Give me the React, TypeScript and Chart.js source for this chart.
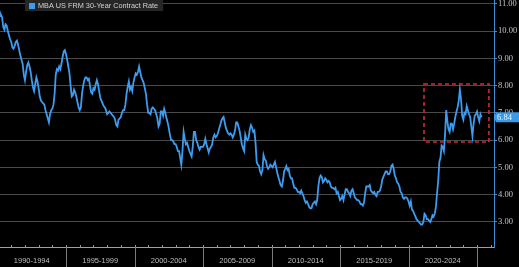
import React, { useEffect, useRef } from 'react';
import { Chart, registerables } from 'chart.js';

Chart.register(...registerables);

// ---------- DATA (monthly MBA 30-year contract rate, %) ----------
const startYear = 1990;
const rates1990 = [10.35, 10.45, 10.55, 10.6, 10.5, 10.15, 10.05, 10.25, 10.2, 10.0, 9.85, 9.7];
const rates1991 = [9.6, 9.4, 9.35, 9.45, 9.6, 9.65, 9.5, 9.3, 9.1, 8.95, 8.8, 8.4];
const rates1992 = [8.2, 8.5, 8.75, 8.85, 8.7, 8.5, 8.2, 7.95, 7.8, 8.05, 8.3, 8.15];
const rates1993 = [7.9, 7.6, 7.45, 7.4, 7.35, 7.3, 7.1, 6.95, 6.8, 6.65, 6.95, 7.1];
const rates1994 = [7.15, 7.3, 7.7, 8.4, 8.6, 8.55, 8.7, 8.6, 8.8, 9.05, 9.25, 9.3];
const rates1995 = [9.15, 8.95, 8.7, 8.45, 8.0, 7.6, 7.65, 7.85, 7.75, 7.6, 7.4, 7.2];
const rates1996 = [7.1, 7.2, 7.7, 8.0, 8.2, 8.3, 8.3, 8.2, 8.25, 8.0, 7.75, 7.7];
const rates1997 = [7.9, 7.85, 8.05, 8.2, 8.05, 7.8, 7.55, 7.45, 7.35, 7.25, 7.2, 7.1];
const rates1998 = [6.95, 7.0, 7.05, 7.0, 6.95, 6.9, 6.85, 6.75, 6.55, 6.5, 6.75, 6.8];
const rates1999 = [6.85, 7.0, 7.1, 7.1, 7.3, 7.7, 7.95, 8.15, 7.85, 7.95, 7.8, 8.1];
const rates2000 = [8.3, 8.45, 8.4, 8.5, 8.7, 8.5, 8.3, 8.2, 8.1, 7.9, 7.7, 7.3];
const rates2001 = [7.0, 7.0, 6.95, 7.15, 7.2, 7.15, 7.1, 6.95, 6.8, 6.5, 6.6, 7.05];
const rates2002 = [7.05, 6.9, 7.15, 7.0, 6.8, 6.65, 6.45, 6.2, 6.0, 6.0, 5.95, 5.85];
const rates2003 = [5.85, 5.75, 5.6, 5.6, 5.35, 5.1, 5.6, 6.3, 6.05, 5.85, 5.9, 5.75];
const rates2004 = [5.6, 5.5, 5.4, 5.75, 6.3, 6.3, 6.0, 5.9, 5.75, 5.65, 5.75, 5.75];
const rates2005 = [5.75, 5.85, 6.05, 5.85, 5.7, 5.55, 5.7, 5.75, 5.85, 6.1, 6.2, 6.1];
const rates2006 = [6.15, 6.25, 6.4, 6.55, 6.7, 6.8, 6.85, 6.65, 6.45, 6.35, 6.25, 6.2];
const rates2007 = [6.25, 6.2, 6.1, 6.2, 6.35, 6.65, 6.65, 6.5, 6.35, 6.1, 5.85, 5.7];
const rates2008 = [5.6, 6.2, 6.05, 6.0, 6.1, 6.4, 6.55, 6.45, 6.3, 6.35, 5.9, 5.2];
const rates2009 = [5.1, 5.05, 4.85, 4.75, 4.9, 5.45, 5.3, 5.25, 5.05, 4.95, 5.0, 5.1];
const rates2010 = [5.05, 5.0, 5.1, 5.2, 5.0, 4.8, 4.65, 4.5, 4.35, 4.3, 4.5, 4.85];
const rates2011 = [4.95, 5.05, 4.9, 4.95, 4.7, 4.6, 4.6, 4.4, 4.25, 4.25, 4.2, 4.1];
const rates2012 = [4.1, 4.05, 4.15, 4.05, 3.95, 3.8, 3.7, 3.75, 3.65, 3.55, 3.5, 3.5];
const rates2013 = [3.65, 3.7, 3.75, 3.65, 3.8, 4.3, 4.6, 4.7, 4.65, 4.45, 4.5, 4.6];
const rates2014 = [4.55, 4.45, 4.5, 4.45, 4.3, 4.25, 4.25, 4.2, 4.25, 4.05, 4.1, 3.95];
const rates2015 = [3.8, 3.85, 3.95, 3.8, 4.0, 4.2, 4.2, 4.1, 4.05, 3.95, 4.15, 4.2];
const rates2016 = [4.05, 3.9, 3.85, 3.8, 3.8, 3.75, 3.65, 3.65, 3.6, 3.7, 4.05, 4.3];
const rates2017 = [4.3, 4.3, 4.35, 4.15, 4.1, 4.05, 4.1, 4.0, 3.95, 4.1, 4.1, 4.15];
const rates2018 = [4.3, 4.55, 4.65, 4.75, 4.85, 4.85, 4.75, 4.75, 4.85, 5.05, 5.1, 4.95];
const rates2019 = [4.7, 4.6, 4.45, 4.4, 4.3, 4.1, 4.05, 3.9, 3.85, 3.9, 3.9, 3.85];
const rates2020 = [3.75, 3.6, 3.75, 3.45, 3.4, 3.3, 3.2, 3.1, 3.05, 3.0, 2.95, 2.9];
const rates2021 = [2.9, 3.0, 3.3, 3.25, 3.1, 3.1, 3.05, 3.0, 3.1, 3.25, 3.2, 3.3];
const rates2022 = [3.55, 4.05, 4.5, 5.2, 5.35, 5.8, 5.75, 5.6, 6.2, 7.1, 6.7, 6.4];
const rates2023 = [6.3, 6.6, 6.6, 6.4, 6.6, 6.85, 7.05, 7.2, 7.45, 7.85, 7.5, 6.9];
const rates2024 = [6.75, 7.0, 6.95, 7.25, 7.1, 6.95, 6.85, 6.5, 6.15, 6.6, 6.9, 6.95];
const rates2025 = [7.05, 6.85, 6.7, 6.95, 6.84];

const monthlyRates = [
  ...rates1990, ...rates1991, ...rates1992, ...rates1993, ...rates1994,
  ...rates1995, ...rates1996, ...rates1997, ...rates1998, ...rates1999,
  ...rates2000, ...rates2001, ...rates2002, ...rates2003, ...rates2004,
  ...rates2005, ...rates2006, ...rates2007, ...rates2008, ...rates2009,
  ...rates2010, ...rates2011, ...rates2012, ...rates2013, ...rates2014,
  ...rates2015, ...rates2016, ...rates2017, ...rates2018, ...rates2019,
  ...rates2020, ...rates2021, ...rates2022, ...rates2023, ...rates2024,
  ...rates2025,
];

const seriesName = 'MBA US FRM 30-Year Contract Rate';
const periodLabels = ['1990-1994', '1995-1999', '2000-2004', '2005-2009', '2010-2014', '2015-2019', '2020-2024'];
const periodStarts = [1990, 1995, 2000, 2005, 2010, 2015, 2020, 2025];
const yTickValues = [3, 4, 5, 6, 7, 8, 9, 10, 11];
const xMin = 1990.18;
const xMax = 2026.24;
const yMin = 2.08;
const yMax = 11.14;
// highlighted region (red dashed box)
const highlightFromYear = 2021.13;
const highlightToYear = 2025.87;
const highlightHigh = 8.06;
const highlightLow = 5.93;

const LINE_COLOR = '#3d9cf0';

const decorPlugin = {
  id: 'decor',
  beforeDraw(chart: any) {
    const { ctx, width, height } = chart;
    ctx.save();
    ctx.fillStyle = '#000';
    ctx.fillRect(0, 0, width, height);
    ctx.restore();
  },
  afterDatasetsDraw(chart: any) {
    const { ctx } = chart;
    const xs = chart.scales.x;
    const ys = chart.scales.y;
    const x1 = xs.getPixelForValue(highlightFromYear);
    const x2 = xs.getPixelForValue(highlightToYear);
    const y1 = ys.getPixelForValue(highlightHigh);
    const y2 = ys.getPixelForValue(highlightLow);
    ctx.save();
    ctx.strokeStyle = '#d0283c';
    ctx.lineWidth = 1.6;
    ctx.setLineDash([4, 3]);
    ctx.strokeRect(x1, y1, x2 - x1, y2 - y1);
    ctx.restore();
  },
  afterDraw(chart: any) {
    const { ctx, chartArea, height } = chart;
    const xs = chart.scales.x;
    const ys = chart.scales.y;
    ctx.save();
    // yearly minor ticks on the x axis
    ctx.strokeStyle = '#9a9a9a';
    ctx.lineWidth = 1;
    for (let yr = 1991; yr <= 2026; yr++) {
      const px = Math.round(xs.getPixelForValue(yr)) + 0.5;
      if (px > chartArea.right) continue;
      ctx.beginPath();
      ctx.moveTo(px, chartArea.bottom - 2);
      ctx.lineTo(px, chartArea.bottom + 1);
      ctx.stroke();
    }
    // period separators
    ctx.strokeStyle = '#7a7a7a';
    periodStarts.forEach((yr) => {
      const px = Math.round(xs.getPixelForValue(yr)) + 0.5;
      if (px < chartArea.left || px > chartArea.right) return;
      ctx.beginPath();
      ctx.moveTo(px, chartArea.bottom);
      ctx.lineTo(px, height);
      ctx.stroke();
    });

    // legend
    ctx.font = '7.3px "Liberation Sans", Arial, sans-serif';
    const textW = ctx.measureText(seriesName).width;
    ctx.fillStyle = '#262626';
    ctx.fillRect(25, 0, textW + 18, 11);
    ctx.fillStyle = LINE_COLOR;
    ctx.fillRect(29, 3, 6, 6);
    ctx.fillStyle = '#d2d2d2';
    ctx.textBaseline = 'middle';
    ctx.textAlign = 'left';
    ctx.fillText(seriesName, 38, 6);

    // last value tag
    const lastValue = monthlyRates[monthlyRates.length - 1];
    const ty = ys.getPixelForValue(lastValue);
    const tx = chartArea.right + 2;
    ctx.fillStyle = '#3b9ae6';
    ctx.beginPath();
    ctx.moveTo(tx - 2, ty);
    ctx.lineTo(tx, ty - 5);
    ctx.lineTo(chart.width, ty - 5);
    ctx.lineTo(chart.width, ty + 5);
    ctx.lineTo(tx, ty + 5);
    ctx.closePath();
    ctx.fill();
    ctx.fillStyle = '#eaf4ff';
    ctx.font = '8.5px "Liberation Serif", "Times New Roman", serif';
    ctx.textAlign = 'left';
    ctx.textBaseline = 'middle';
    ctx.fillText(lastValue.toFixed(2), tx + 1, ty + 0.5);
    ctx.restore();
  },
};

export default function App() {
  const canvasRef = useRef<HTMLCanvasElement | null>(null);

  useEffect(() => {
    document.body.style.margin = '0';
    document.body.style.background = '#000';
    const canvas = canvasRef.current;
    if (!canvas) return;
    const points = monthlyRates.map((v, i) => ({ x: startYear + i / 12, y: v }));
    const chart = new Chart(canvas, {
      type: 'line',
      data: {
        datasets: [
          {
            label: seriesName,
            data: points,
            borderColor: LINE_COLOR,
            borderWidth: 1.8,
            pointRadius: 0,
            tension: 0,
            fill: false,
          },
        ],
      },
      options: {
        animation: false,
        responsive: false,
        maintainAspectRatio: false,
        layout: { padding: 0 },
        plugins: {
          legend: { display: false },
          tooltip: { enabled: false },
        },
        scales: {
          x: {
            type: 'linear',
            min: xMin,
            max: xMax,
            afterBuildTicks: (scale: any) => {
              scale.ticks = periodLabels.map((_, i) => ({ value: periodStarts[i] + 2.5 }));
            },
            afterFit: (scale: any) => {
              scale.height = 20;
              scale.paddingLeft = 0;
              scale.paddingRight = 0;
            },
            ticks: {
              autoSkip: false,
              maxRotation: 0,
              color: '#bdbdbd',
              font: { family: '"Liberation Sans", Arial, sans-serif', size: 7.5 },
              padding: 9,
              callback: (value: any) => {
                const idx = periodStarts.indexOf(Math.round(Number(value) - 2.5));
                return idx >= 0 && idx < periodLabels.length ? periodLabels[idx] : '';
              },
            },
            grid: { display: false, drawTicks: false },
            border: { display: true, color: '#a0a0a0', width: 1 },
          },
          y: {
            type: 'linear',
            position: 'right',
            min: yMin,
            max: yMax,
            afterBuildTicks: (scale: any) => {
              scale.ticks = yTickValues.map((v) => ({ value: v }));
            },
            afterFit: (scale: any) => {
              scale.width = 25;
              scale.paddingTop = 0;
              scale.paddingBottom = 0;
            },
            ticks: {
              color: '#c4c4c4',
              font: { family: '"Liberation Serif", "Times New Roman", serif', size: 8.5 },
              padding: 1,
              callback: (value: any) => Number(value).toFixed(2),
            },
            grid: {
              color: '#4a4a4a',
              lineWidth: 1,
              tickColor: '#3f8fd8',
              tickLength: 3,
            },
            border: { display: true, color: '#3f8fd8', width: 1 },
          },
        },
      },
      plugins: [decorPlugin],
    } as any);
    return () => chart.destroy();
  }, []);

  return (
    <div style={{ position: 'fixed', left: 0, top: 0, width: 519, height: 267, background: '#000' }}>
      <canvas ref={canvasRef} width={519} height={267} style={{ display: 'block', width: 519, height: 267 }} />
    </div>
  );
}
